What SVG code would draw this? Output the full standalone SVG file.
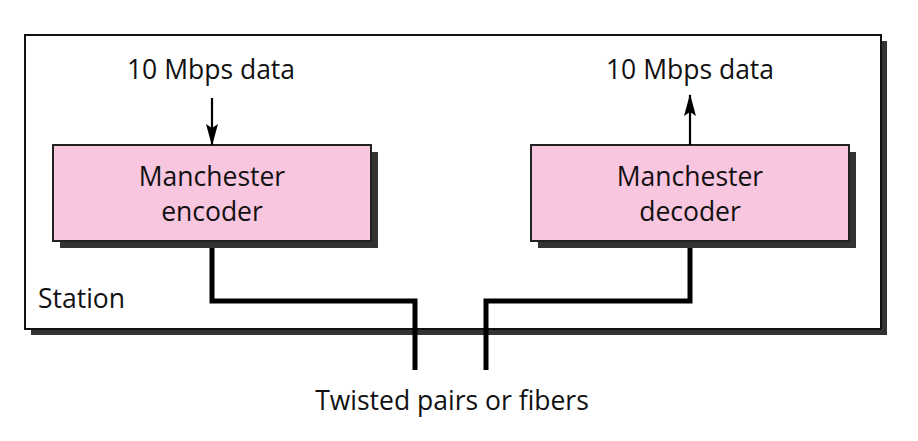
<svg xmlns="http://www.w3.org/2000/svg" width="918" height="441" viewBox="0 0 918 441">
<style>
text{font-family:"Open Sans","Noto Sans",sans-serif;font-size:26.5px;fill:#111}
.c{text-anchor:middle}
.sh{fill:#333}
.box{fill:#f9c6e0;stroke:#222;stroke-width:2}
.wire{fill:none;stroke:#000;stroke-width:5}
.arr{fill:none;stroke:#000;stroke-width:2.2}
</style>
<defs>
<marker id="ah" markerWidth="22" markerHeight="12" refX="21" refY="6" orient="auto" markerUnits="userSpaceOnUse" overflow="visible">
<path d="M0,0 L22,6 L0,12 L4,6 Z" fill="#000"/>
</marker>
</defs>
<g id="station">
<rect class="sh" x="31" y="41" width="856" height="294"/>
<rect x="25" y="35" width="856" height="294" fill="#fff" stroke="#111" stroke-width="2"/>
<text x="38" y="308">Station</text>
</g>
<g id="encoder">
<rect class="sh" x="60" y="152" width="318" height="96"/>
<rect class="box" x="53" y="145" width="318" height="96"/>
<text class="c" x="212" y="186">Manchester</text>
<text class="c" x="212" y="221">encoder</text>
</g>
<g id="decoder">
<rect class="sh" x="538" y="152" width="318" height="96"/>
<rect class="box" x="531" y="145" width="318" height="96"/>
<text class="c" x="690" y="186">Manchester</text>
<text class="c" x="690" y="221">decoder</text>
</g>
<g id="labels">
<text class="c" x="211" y="79">10 Mbps data</text>
<text class="c" x="690" y="79">10 Mbps data</text>
<text class="c" x="452" y="410">Twisted pairs or fibers</text>
</g>
<g id="connectors">
<line class="arr" x1="212" y1="98" x2="212" y2="145" marker-end="url(#ah)"/>
<line class="arr" x1="690" y1="145" x2="690" y2="95" marker-end="url(#ah)"/>
<polyline class="wire" points="212,248 212,301 415,301 415,370"/>
<polyline class="wire" points="690,248 690,301 486,301 486,370"/>
</g>
</svg>
